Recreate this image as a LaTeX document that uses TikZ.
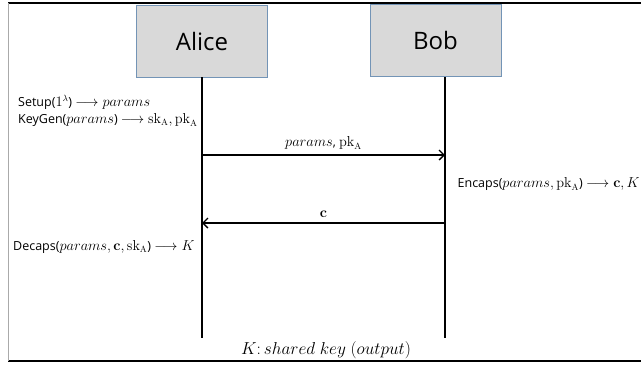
\documentclass[tikz,border=0pt]{standalone}
\usepackage[no-math]{fontspec}
\setmainfont{Open Sans}
\usetikzlibrary{arrows.meta}
\definecolor{boxfill}{RGB}{217,217,217}
\definecolor{boxedge}{RGB}{115,148,182}
\definecolor{frameleft}{RGB}{170,170,170}
\newcommand{\mymath}[1]{{\fontsize{13.5}{16}\selectfont$#1$}}
\begin{document}
\begin{tikzpicture}[x=1pt,y=-1pt,
  actor/.style={draw=boxedge,fill=boxfill,line width=0.8pt,minimum width=131pt,minimum height=72pt,inner sep=0pt,font=\fontsize{24}{28}\selectfont},
  lifeline/.style={line width=1.4pt},
  msg/.style={line width=1.4pt,-{Straight Barb[length=5pt,width=10pt,line width=1.4pt]}},
  txt/.style={font=\fontsize{12.5}{15}\selectfont,inner sep=0pt,anchor=west},
  lbl/.style={font=\fontsize{12.5}{15}\selectfont,inner sep=0pt}]
\useasboundingbox (0,0) rectangle (641,365);
% frame
\coordinate (tl) at (8,3);
\coordinate (tr) at (641,3);
\coordinate (bl) at (8,361);
\coordinate (br) at (641,361);
\draw[line width=1.4pt] (tl) -- (tr);
\draw[line width=1.4pt] (bl) -- (br);
\draw[frameleft,line width=1pt] (tl) -- (bl);
% actors
\node[actor] (alice) at (202,41) {Alice};
\node[actor] (bob) at (435.5,40.5) {Bob};
\coordinate (aend) at (202,338);
\coordinate (bend) at (445,338);
\coordinate (atop) at (202,77);
\coordinate (btop) at (445,77);
\draw[lifeline] (atop) -- (aend);
\draw[lifeline] (btop) -- (bend);
% messages
\coordinate (m1s) at (202,155);
\coordinate (m1e) at (445,155);
\coordinate (m2s) at (445,223);
\coordinate (m2e) at (202,223);
\draw[msg] (m1s) -- node[lbl,above=5pt] (l1) {\mymath{params}, \mymath{\mathrm{pk}_\mathrm{A}}} (m1e);
\draw[msg] (m2s) -- node[lbl,above=5pt] (l2) {\mymath{\mathbf{c}}} (m2e);
% texts
\node[txt] (setup) at (18,102) {Setup(\mymath{1^\lambda}) \mymath{\longrightarrow params}};
\node[txt] (keygen) at (18,120) {KeyGen(\mymath{params}) \mymath{\longrightarrow \mathrm{sk}_\mathrm{A}, \mathrm{pk}_\mathrm{A}}};
\node[txt,anchor=east] (encaps) at (640,184) {Encaps(\mymath{params, \mathrm{pk}_\mathrm{A}}) \mymath{\longrightarrow \mathbf{c}, K}};
\node[txt] (decaps) at (13,247) {Decaps(\mymath{params, \mathbf{c}, \mathrm{sk}_\mathrm{A}}) \mymath{\longrightarrow K}};
\node[font=\fontsize{18}{21}\selectfont,inner sep=0pt] (key) at (326,350) {$K\colon shared\ key\ (output)$};
\end{tikzpicture}
\end{document}
